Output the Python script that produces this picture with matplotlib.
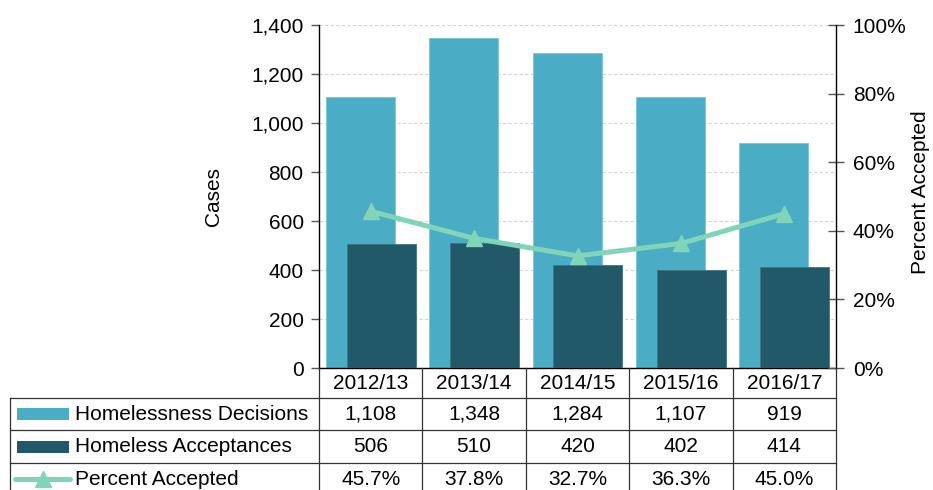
import matplotlib
matplotlib.use("Agg")
import matplotlib.pyplot as plt
from matplotlib.lines import Line2D
from matplotlib.patches import Rectangle
from matplotlib.ticker import FuncFormatter, MultipleLocator

# Data
years = ["2012/13", "2013/14", "2014/15", "2015/16", "2016/17"]
decisions = [1108, 1348, 1284, 1107, 919]
acceptances = [506, 510, 420, 402, 414]
pct_accepted = [45.7, 37.8, 32.7, 36.3, 45.0]
series_names = ["Homelessness Decisions", "Homeless Acceptances", "Percent Accepted"]

C_LIGHT = "#4BACC6"
C_DARK = "#215968"
C_LINE = "#80D4B8"
C_GRID = "#d4d4d4"
C_RULE = "#333333"
FS = 15

W, H = 933, 490
plt.rcParams["font.family"] = ["Liberation Sans", "DejaVu Sans"]
fig = plt.figure(figsize=(W / 100, H / 100), dpi=100)


def fx(px):
    return px / W


def fy(py):
    return 1 - py / H


# plot area in pixel coordinates
AX_L, AX_R, AX_T, AX_B = 319, 836, 25, 368
ax = fig.add_axes([fx(AX_L), fy(AX_B), (AX_R - AX_L) / W, (AX_B - AX_T) / H])

xs = list(range(len(years)))
ax.bar([i - 0.1 for i in xs], decisions, width=0.667, color=C_LIGHT,
       edgecolor="#7cc6da", linewidth=0.6, zorder=2)
ax.bar([i + 0.1 for i in xs], acceptances, width=0.667, color=C_DARK,
       edgecolor="#3f7584", linewidth=0.6, zorder=3)

ax.set_xlim(-0.5, len(years) - 0.5)
ax.set_ylim(0, 1400)
ax.yaxis.set_major_locator(MultipleLocator(200))
ax.yaxis.set_major_formatter(FuncFormatter(lambda v, _: f"{v:,.0f}"))
ax.set_xticks([])
ax.grid(axis="y", color=C_GRID, linestyle=(0, (3, 2)), linewidth=0.8, zorder=0)
ax.set_axisbelow(True)
for s in ("top", "right"):
    ax.spines[s].set_visible(False)
for s in ("left", "bottom"):
    ax.spines[s].set_color("black")
    ax.spines[s].set_linewidth(1.0)
ax.tick_params(axis="y", direction="out", length=6, width=1, color="#555555",
               labelsize=FS, pad=5)

ax2 = ax.twinx()
ax2.plot(xs, pct_accepted, color=C_LINE, linewidth=3.6, marker="^",
         markersize=11, zorder=5)
ax2.set_ylim(0, 100)
ax2.yaxis.set_major_locator(MultipleLocator(20))
ax2.yaxis.set_major_formatter(FuncFormatter(lambda v, _: f"{v:.0f}%"))
for s in ("top", "left", "bottom"):
    ax2.spines[s].set_visible(False)
ax2.spines["right"].set_color("black")
ax2.spines["right"].set_linewidth(1.0)
ax2.tick_params(axis="y", direction="inout", length=12, width=1, color="#555555",
                labelsize=FS, pad=6)

fig.text(fx(213), fy(196), "Cases", rotation=90, ha="center", va="center", fontsize=FS)
fig.text(fx(920), fy(192), "Percent Accepted", rotation=90, ha="center", va="center",
         fontsize=FS)

# data table below the plot
col_w = (AX_R - AX_L) / len(years)
row_lines = [398, 430, 463]
row_centers = [414, 447, 479]
TBL_L = 10


def fig_line(x0, y0, x1, y1, **kw):
    fig.add_artist(Line2D([fx(x0), fx(x1)], [fy(y0), fy(y1)],
                          transform=fig.transFigure, color=C_RULE, linewidth=0.9, **kw))


for i in range(len(years) + 1):
    xb = AX_L + i * col_w
    fig_line(xb, AX_B, xb, H + 5)
fig_line(TBL_L, row_lines[0], TBL_L, H + 5)
for yl in row_lines:
    fig_line(TBL_L, yl, AX_R, yl)

for i, yr in enumerate(years):
    cx = AX_L + (i + 0.5) * col_w
    fig.text(fx(cx), fy(383), yr, ha="center", va="center", fontsize=FS)
    fig.text(fx(cx), fy(row_centers[0]), f"{decisions[i]:,}", ha="center", va="center",
             fontsize=FS)
    fig.text(fx(cx), fy(row_centers[1]), f"{acceptances[i]:,}", ha="center", va="center",
             fontsize=FS)
    fig.text(fx(cx), fy(row_centers[2]), f"{pct_accepted[i]:.1f}%", ha="center",
             va="center", fontsize=FS)

# legend keys in the row headers
for k, col in enumerate([C_LIGHT, C_DARK]):
    yc = row_centers[k]
    fig.add_artist(Rectangle((fx(17), fy(yc + 6)), fx(69) - fx(17), 12 / H,
                             transform=fig.transFigure, facecolor=col, edgecolor="none"))
fig.add_artist(Line2D([fx(15), fx(70)], [fy(row_centers[2]), fy(row_centers[2])],
                      transform=fig.transFigure, color=C_LINE, linewidth=3.6,
                      solid_capstyle="round"))
fig.add_artist(Line2D([fx(42.5)], [fy(row_centers[2])], transform=fig.transFigure,
                      color=C_LINE, marker="^", markersize=11, linestyle="none"))
for k, name in enumerate(series_names):
    fig.text(fx(75), fy(row_centers[k]), name, ha="left", va="center", fontsize=FS)

fig.savefig("out.png", dpi=100)
